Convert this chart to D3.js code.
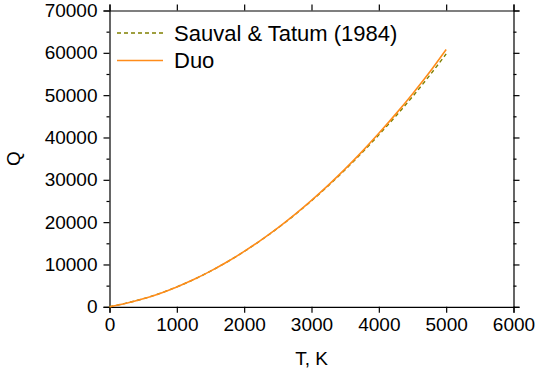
<!DOCTYPE html>
<html>
<head>
<meta charset="utf-8">
<script src="https://cdn.jsdelivr.net/npm/d3@7"></script>
<style>
  html, body { margin: 0; padding: 0; background: #fff; }
  svg { display: block; font-family: "Liberation Sans", Arial, sans-serif; }
</style>
</head>
<body>
<svg id="chart" width="536" height="376"></svg>
<script>
// Temperature grid (K)
const temps = [0, 250, 500, 750, 1000, 1250, 1500, 1750, 2000, 2250, 2500, 2750,
               3000, 3250, 3500, 3750, 4000, 4250, 4500, 4750, 5000];
// Partition function, Sauval & Tatum (1984)
const qSauval = [0, 880, 1890, 3170, 4700, 6440, 8420, 10620, 13060, 15720, 18600, 21720,
                 25050, 28620, 32400, 36400, 40620, 45030, 49640, 54560, 59750];
// Partition function, Duo
const qDuo = [0, 830, 1880, 3170, 4700, 6440, 8420, 10630, 13080, 15760, 18660, 21790,
              25150, 28750, 32580, 36650, 40980, 45520, 50300, 55350, 60800];

const xTicks = [0, 1000, 2000, 3000, 4000, 5000, 6000];
const yTicks = [0, 10000, 20000, 30000, 40000, 50000, 60000, 70000];
const yMinor = [5000, 15000, 25000, 35000, 45000, 55000, 65000];

const seriesNames = ["Sauval & Tatum (1984)", "Duo"];
const seriesColors = ["#808000", "#ff8c1a"];

const margin = { left: 109.5, right: 513.5, top: 10.5, bottom: 306.8 };
const svg = d3.select("#chart");

const x = d3.scaleLinear().domain([0, 6000]).range([margin.left, margin.right]);
const y = d3.scaleLinear().domain([0, 70000]).range([margin.bottom, margin.top]);

const fontSize = 19;
const legendFontSize = 22;

// Axes: all ticks point outward
const gBottom = svg.append("g").attr("transform", `translate(0,${margin.bottom})`)
  .call(d3.axisBottom(x).tickValues(xTicks).tickSize(6).tickPadding(3).tickFormat(d3.format("d")));
const gTop = svg.append("g").attr("transform", `translate(0,${margin.top})`)
  .call(d3.axisTop(x).tickValues(xTicks).tickSize(6).tickFormat(""));
const gLeft = svg.append("g").attr("transform", `translate(${margin.left},0)`)
  .call(d3.axisLeft(y).tickValues(yTicks).tickSize(6).tickPadding(6).tickFormat(d3.format("d")));
const gLeftMinor = svg.append("g").attr("transform", `translate(${margin.left},0)`)
  .call(d3.axisLeft(y).tickValues(yMinor).tickSize(3).tickFormat(""));
const gRight = svg.append("g").attr("transform", `translate(${margin.right},0)`)
  .call(d3.axisRight(y).tickValues(yTicks).tickSize(6).tickFormat(""));
const gRightMinor = svg.append("g").attr("transform", `translate(${margin.right},0)`)
  .call(d3.axisRight(y).tickValues(yMinor).tickSize(3).tickFormat(""));

[gBottom, gTop, gLeft, gLeftMinor, gRight, gRightMinor].forEach(g => {
  g.selectAll("path.domain").attr("stroke", "#000").attr("stroke-width", 1.2);
  g.selectAll(".tick line").attr("stroke", "#000").attr("stroke-width", 1.2);
  g.selectAll("text").attr("fill", "#000").style("font-size", fontSize + "px")
    .style("font-family", "'Liberation Sans', Arial, sans-serif");
});
gBottom.selectAll(".tick text").attr("dy", "0.82em");
gLeftMinor.selectAll("path.domain").remove();
gRightMinor.selectAll("path.domain").remove();

// Axis titles
svg.append("text").attr("x", (margin.left + margin.right) / 2).attr("y", 365)
  .attr("text-anchor", "middle").style("font-size", fontSize + "px").text("T, K");
svg.append("text").attr("transform", `translate(20,${(margin.top + margin.bottom) / 2}) rotate(-90)`)
  .attr("text-anchor", "middle").style("font-size", fontSize + "px").text("Q");

// Curves
const line = d3.line().x(d => x(d[0])).y(d => y(d[1])).curve(d3.curveMonotoneX);
const plot = svg.append("g");
plot.append("path").datum(temps.map((t, i) => [t, qSauval[i]]))
  .attr("d", line).attr("fill", "none").attr("stroke", seriesColors[0])
  .attr("stroke-width", 1.4).attr("stroke-dasharray", "4,3");
plot.append("path").datum(temps.map((t, i) => [t, qDuo[i]]))
  .attr("d", line).attr("fill", "none").attr("stroke", seriesColors[1])
  .attr("stroke-width", 1.6);

// Legend
const legend = svg.append("g");
seriesNames.forEach((name, i) => {
  const ly = 33 + i * 27.5;
  legend.append("line").attr("x1", 117).attr("x2", 163).attr("y1", ly).attr("y2", ly)
    .attr("stroke", seriesColors[i]).attr("stroke-width", i === 0 ? 1.4 : 1.6)
    .attr("stroke-dasharray", i === 0 ? "4,3" : null);
  legend.append("text").attr("x", 174).attr("y", ly).attr("dy", "0.35em")
    .style("font-size", legendFontSize + "px").text(name);
});
</script>
</body>
</html>
